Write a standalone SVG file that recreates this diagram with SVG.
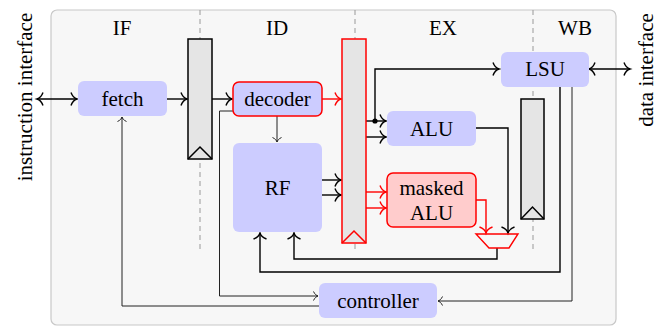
<svg xmlns="http://www.w3.org/2000/svg" width="667" height="331" viewBox="0 0 667 331">
<style>
text{font-family:"Liberation Serif","Times New Roman","DejaVu Serif",serif;font-size:21px;fill:#000;text-anchor:middle}
.node{fill:#ccccff;stroke:none}
.rnode{fill:#ccccff;stroke:#ff0000;stroke-width:1.5}
.mnode{fill:#ffcccc;stroke:#ff0000;stroke-width:1.5}
.reg{fill:#e5e5e5;stroke:#000;stroke-width:1.5}
.rreg{fill:#e5e5e5;stroke:#ff0000;stroke-width:1.5}
.d{fill:none;stroke:#000;stroke-width:1.4}
.dr{fill:none;stroke:#ff0000;stroke-width:1.4}
.c{fill:none;stroke:#222;stroke-width:1}
.dash{stroke:#999;stroke-width:1;stroke-dasharray:5,4}
</style>
<defs>
<marker id="ab" markerUnits="userSpaceOnUse" markerWidth="10" markerHeight="16" viewBox="-8 -8 9 16" refX="0" refY="0" orient="auto-start-reverse" overflow="visible">
<path d="M-6,-6.5 C-4.5,-2.5 -1.8,-0.5 0,0 C-1.8,0.5 -4.5,2.5 -6,6.5" fill="none" stroke="#000" stroke-width="1.4"/>
</marker>
<marker id="ar" markerUnits="userSpaceOnUse" markerWidth="10" markerHeight="16" viewBox="-8 -8 9 16" refX="0" refY="0" orient="auto-start-reverse" overflow="visible">
<path d="M-6,-6.5 C-4.5,-2.5 -1.8,-0.5 0,0 C-1.8,0.5 -4.5,2.5 -6,6.5" fill="none" stroke="#ff0000" stroke-width="1.4"/>
</marker>
<marker id="ac" markerUnits="userSpaceOnUse" markerWidth="8" markerHeight="12" viewBox="-6 -6 7 12" refX="0" refY="0" orient="auto-start-reverse" overflow="visible">
<path d="M-4.5,-4.5 C-3.3,-1.7 -1.2,-0.3 0,0 C-1.2,0.3 -3.3,1.7 -4.5,4.5" fill="none" stroke="#222" stroke-width="1"/>
</marker>
</defs>

<rect x="51" y="10" width="565" height="315" rx="6" fill="#f7f7f7" stroke="#c8c8c8" stroke-width="1.2"/>
<g id="stages">
<line class="dash" x1="200" y1="10" x2="200" y2="253"/>
<line class="dash" x1="355" y1="10" x2="355" y2="253"/>
<line class="dash" x1="533" y1="10" x2="533" y2="253"/>
<text x="122" y="35">IF</text>
<text x="277" y="35">ID</text>
<text x="443" y="35">EX</text>
<text x="575" y="35">WB</text>
</g>

<g id="connectors">
<line class="d" x1="37" y1="99" x2="77" y2="99" marker-start="url(#ab)" marker-end="url(#ab)"/>
<line class="d" x1="167" y1="99" x2="187" y2="99" marker-end="url(#ab)"/>
<line class="d" x1="212" y1="99" x2="232" y2="99" marker-end="url(#ab)"/>
<line class="dr" x1="322" y1="99" x2="341" y2="99" marker-end="url(#ar)"/>
<line class="c" x1="277" y1="116" x2="277" y2="142" marker-end="url(#ac)"/>
<line class="d" x1="322" y1="180" x2="341" y2="180" marker-end="url(#ab)"/>
<line class="d" x1="322" y1="195" x2="341" y2="195" marker-end="url(#ab)"/>
<line class="d" x1="366" y1="121" x2="386" y2="121" marker-end="url(#ab)"/>
<line class="d" x1="366" y1="137" x2="386" y2="137" marker-end="url(#ab)"/>
<path class="d" d="M375,121 V69 H499" marker-end="url(#ab)"/>
<circle cx="375" cy="121" r="2.6" fill="#000"/>
<line class="dr" x1="366" y1="192" x2="386" y2="192" marker-end="url(#ar)"/>
<line class="dr" x1="366" y1="208" x2="386" y2="208" marker-end="url(#ar)"/>
<path class="d" d="M476,128 H508 V233" marker-end="url(#ab)"/>
<path class="dr" d="M476,200 H486 V233" marker-end="url(#ar)"/>
<path class="d" d="M497,248 V259 H294 V233" marker-end="url(#ab)"/>
<path class="d" d="M560,87 V272 H260 V233" marker-end="url(#ab)"/>
<line class="d" x1="589" y1="69" x2="630" y2="69" marker-start="url(#ab)" marker-end="url(#ab)"/>
<path class="c" d="M319,306 H122 V117" marker-end="url(#ac)"/>
<path class="c" d="M233,111 H219.5 V296 H318" stroke="#555" marker-end="url(#ac)"/>
<path class="c" d="M572,87 V301 H438" marker-end="url(#ac)"/>
</g>

<g id="fetch">
<rect class="node" x="78" y="81" width="89" height="35" rx="6"/>
<text x="122.5" y="106">fetch</text>
</g>
<g id="reg-if-id">
<rect class="reg" x="188" y="39" width="24" height="120"/>
<polyline points="188,159 200,147 212,159" fill="none" stroke="#000" stroke-width="1.5"/>
</g>
<g id="decoder">
<rect class="rnode" x="233" y="82" width="89" height="34" rx="6"/>
<text x="277.5" y="106">decoder</text>
</g>
<g id="rf">
<rect class="node" x="233" y="143" width="89" height="89" rx="6"/>
<text x="277.5" y="195">RF</text>
</g>
<g id="reg-id-ex">
<rect class="rreg" x="342" y="39" width="24" height="204"/>
<polyline points="342,243 354,231 366,243" fill="none" stroke="#ff0000" stroke-width="1.5"/>
</g>
<g id="alu">
<rect class="node" x="387" y="111" width="89" height="35" rx="6"/>
<text x="431.5" y="136">ALU</text>
</g>
<g id="masked-alu">
<rect class="mnode" x="387" y="173" width="89" height="54" rx="6"/>
<text x="431.5" y="195">masked</text>
<text x="431.5" y="220">ALU</text>
</g>
<g id="mux">
<polygon points="476,234 518,234 509,248 489,248" fill="none" stroke="#ff0000" stroke-width="1.4"/>
</g>
<g id="reg-ex-wb">
<rect class="reg" x="521" y="99" width="23" height="120"/>
<polyline points="521,219 532.5,207 544,219" fill="none" stroke="#000" stroke-width="1.5"/>
</g>
<g id="lsu">
<rect class="node" x="501" y="52" width="88" height="35" rx="6"/>
<text x="545" y="76">LSU</text>
</g>
<g id="controller">
<rect class="node" x="319" y="283" width="118" height="35" rx="6"/>
<text x="378" y="308">controller</text>
</g>
<g id="labels">
<text transform="translate(32,97) rotate(-90)">instruction interface</text>
<text transform="translate(653,70) rotate(-90)">data interface</text>
</g>
</svg>
